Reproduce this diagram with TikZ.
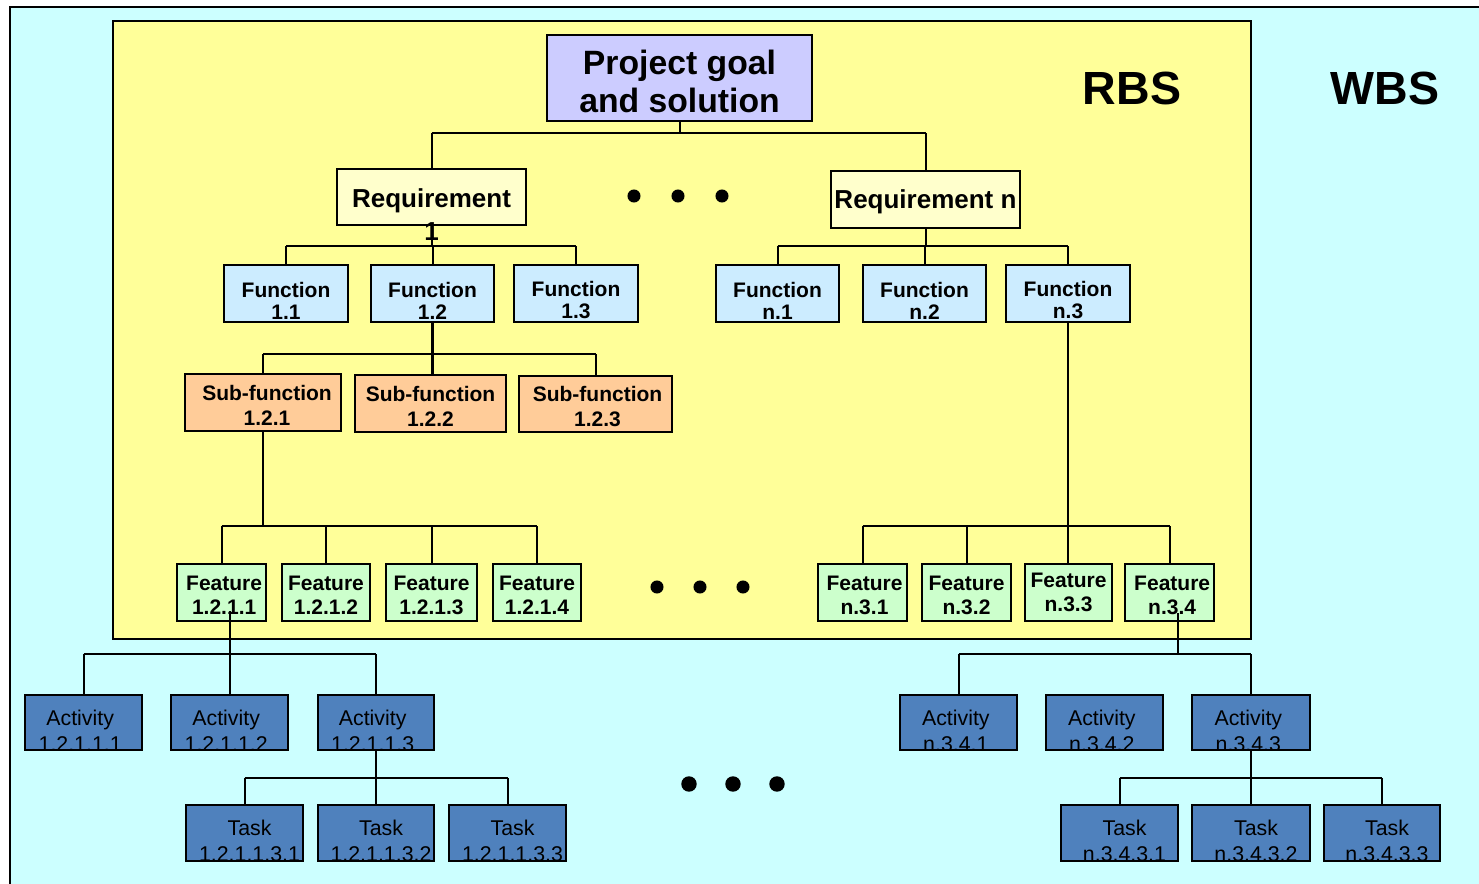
\documentclass[tikz,border=0pt]{standalone}
\usepackage{fontspec}
\setmainfont{Liberation Sans}
\usetikzlibrary{calc}

\definecolor{wbsbg}{HTML}{CCFFFF}
\definecolor{rbsbg}{HTML}{FFFF99}
\definecolor{goalfill}{HTML}{CCCCFF}
\definecolor{reqfill}{HTML}{FFFFCC}
\definecolor{funfill}{HTML}{CCECFF}
\definecolor{subfill}{HTML}{FFCC99}
\definecolor{featfill}{HTML}{CCFFCC}
\definecolor{workfill}{HTML}{4F81BD}

% box: style, name, x1, y1, x2, y2, text options, text
\newcommand\bx[8]{%
  \node[#1, minimum width={(#5-#3)*0.75pt}, minimum height={(#6-#4)*0.75pt}]
    (#2) at ({(#3+#5)/2},{(#4+#6)/2}) {};
  \node[#1 text, #7] at (#2.center) {#8};
}
% work box: the label is cut off by the box outline
\newcommand\wx[8]{%
  \node[#1, minimum width={(#5-#3)*0.75pt}, minimum height={(#6-#4)*0.75pt}]
    (#2) at ({(#3+#5)/2},{(#4+#6)/2}) {};
  \begin{scope}
    \clip (#2.south west) rectangle (#2.north east);
    \node[#1 text, #7] at (#2.center) {#8};
  \end{scope}
  \draw[line width=1.5pt] (#2.south west) rectangle (#2.north east);
}
% tree fork: parent, bar y, first child, last child, children
\newcommand\fork[5]{%
  \draw[link] (#1.south) -- (#1.south |- 0,#2);
  \draw[link] (#3.north |- 0,#2) -- (#4.north |- 0,#2);
  \foreach \c in {#5} { \draw[link] (\c.north) -- (\c.north |- 0,#2); }
}

\begin{document}
\begin{tikzpicture}[x=0.75pt,y=-0.75pt,
  box/.style={draw=black, line width=1.5pt, rectangle, inner sep=0pt, outer sep=0pt},
  lbl/.style={align=center, inner sep=0pt, text=black},
  goalbox/.style={box, fill=goalfill},
  goalbox text/.style={lbl, font=\fontsize{25.3}{28}\selectfont\bfseries},
  reqbox/.style={box, fill=reqfill},
  reqbox text/.style={lbl, font=\fontsize{19.5}{24.75}\selectfont\bfseries},
  funbox/.style={box, fill=funfill},
  funbox text/.style={lbl, font=\fontsize{15.75}{16.5}\selectfont\bfseries},
  subbox/.style={box, fill=subfill},
  subbox text/.style={lbl, font=\fontsize{15.75}{18.75}\selectfont\bfseries},
  featbox/.style={box, fill=featfill},
  featbox text/.style={lbl, font=\fontsize{15.75}{18}\selectfont\bfseries},
  actbox/.style={box, fill=workfill},
  actbox text/.style={lbl, font=\fontsize{16}{19.3}\selectfont},
  taskbox/.style={box, fill=workfill},
  taskbox text/.style={lbl, font=\fontsize{16}{20}\selectfont},
  link/.style={line width=1.5pt},
  title/.style={inner sep=0pt, font=\fontsize{34.9}{40}\selectfont\bfseries},
  dot/.style={fill=black},
]
\useasboundingbox (0,0) rectangle (1479,883);
\clip (0,0) rectangle (1479,883);
\fill[white] (0,0) rectangle (1479,883);

% WBS area and RBS area
\draw[line width=1.5pt, fill=wbsbg] (10,7) rectangle (1500,900);
\draw[line width=1.5pt, fill=rbsbg] (113,21) rectangle (1251,639);

\node[title] (rbs) at (1132,88) {RBS};
\node[title] (wbs) at (1385,88) {WBS};

% goal and requirements
\bx{goalbox}{goal}{547}{35}{812}{121}{yshift=-2.5pt}{Project goal\\and solution}
\bx{reqbox}{req1}{337}{169}{526}{225}{yshift=-13pt}{Requirement\\1}
\bx{reqbox}{reqn}{831}{171}{1020}{228}{yshift=-1.8pt}{Requirement n}

% functions
\bx{funbox}{f11}{224}{265}{348}{322}{yshift=-5.2pt}{Function\\1.1}
\bx{funbox}{f12}{371}{265}{494}{322}{yshift=-5.2pt}{Function\\1.2}
\bx{funbox}{f13}{514}{265}{638}{322}{yshift=-5.2pt}{Function\\1.3}
\bx{funbox}{fn1}{716}{265}{839}{322}{yshift=-5.2pt}{Function\\n.1}
\bx{funbox}{fn2}{863}{265}{986}{322}{yshift=-5.2pt}{Function\\n.2}
\bx{funbox}{fn3}{1006}{265}{1130}{322}{yshift=-5.2pt}{Function\\n.3}

% sub-functions
\bx{subbox}{s121}{185}{374}{341}{431}{yshift=-2.1pt, xshift=3pt}{Sub-function\\1.2.1}
\bx{subbox}{s122}{355}{375}{506}{432}{yshift=-2.1pt}{Sub-function\\1.2.2}
\bx{subbox}{s123}{519}{376}{672}{432}{yshift=-2.1pt, xshift=1.5pt}{Sub-function\\1.2.3}

% features
\bx{featbox}{ft1}{177}{564}{266}{621}{yshift=-2.1pt, xshift=2pt}{Feature\\1.2.1.1}
\bx{featbox}{ft2}{282}{564}{370}{621}{yshift=-2.1pt}{Feature\\1.2.1.2}
\bx{featbox}{ft3}{386}{564}{477}{621}{yshift=-2.1pt}{Feature\\1.2.1.3}
\bx{featbox}{ft4}{493}{564}{581}{621}{yshift=-2.1pt}{Feature\\1.2.1.4}
\bx{featbox}{fn31}{818}{564}{907}{621}{yshift=-2.1pt, xshift=1.5pt}{Feature\\n.3.1}
\bx{featbox}{fn32}{922}{564}{1011}{621}{yshift=-2.1pt}{Feature\\n.3.2}
\bx{featbox}{fn33}{1025}{564}{1112}{621}{yshift=0pt}{Feature\\n.3.3}
\bx{featbox}{fn34}{1125}{564}{1214}{621}{yshift=-2.1pt, xshift=2pt}{Feature\\n.3.4}

% activities
\wx{actbox}{a1}{25}{695}{142}{750}{xshift=-2.5pt, yshift=-6.2pt}{Activity\\1.2.1.1.1}
\wx{actbox}{a2}{171}{695}{288}{750}{xshift=-2.5pt, yshift=-6.2pt}{Activity\\1.2.1.1.2}
\wx{actbox}{a3}{318}{695}{434}{750}{xshift=-2.5pt, yshift=-6.2pt}{Activity\\1.2.1.1.3}
\wx{actbox}{an1}{900}{695}{1017}{750}{xshift=-2pt, yshift=-6.2pt}{Activity\\n.3.4.1}
\wx{actbox}{an2}{1046}{695}{1163}{750}{xshift=-2pt, yshift=-6.2pt}{Activity\\n.3.4.2}
\wx{actbox}{an3}{1192}{695}{1310}{750}{xshift=-2pt, yshift=-6.2pt}{Activity\\n.3.4.3}

% tasks
\wx{taskbox}{t1}{186}{805}{303}{861}{xshift=3.75pt, yshift=-5.85pt}{Task\\1.2.1.1.3.1}
\wx{taskbox}{t2}{318}{805}{434}{861}{xshift=3.75pt, yshift=-5.85pt}{Task\\1.2.1.1.3.2}
\wx{taskbox}{t3}{449}{805}{566}{861}{xshift=3.75pt, yshift=-5.85pt}{Task\\1.2.1.1.3.3}
\wx{taskbox}{tn1}{1061}{805}{1178}{861}{xshift=3.75pt, yshift=-5.85pt}{Task\\n.3.4.3.1}
\wx{taskbox}{tn2}{1192}{805}{1310}{861}{xshift=3.75pt, yshift=-5.85pt}{Task\\n.3.4.3.2}
\wx{taskbox}{tn3}{1324}{805}{1440}{861}{xshift=3.75pt, yshift=-5.85pt}{Task\\n.3.4.3.3}

% ellipsis dots
\foreach \x in {634,678,722} \fill[dot] (\x,196) circle[radius=4.9pt];
\foreach \x in {657,700,743} \fill[dot] (\x,587) circle[radius=4.9pt];
\foreach \x in {689,733,777} \fill[dot] (\x,784) circle[radius=5.8pt];

% connectors
\fork{goal}{133}{req1}{reqn}{req1,reqn}
\fork{req1}{246}{f11}{f13}{f11,f12,f13}
\fork{reqn}{246}{fn1}{fn3}{fn1,fn2,fn3}

\draw[line width=2.5pt] (f12.south) -- (f12.south |- s122.north);
\draw[link] (s121.north |- 0,354) -- (s123.north |- 0,354);
\draw[link] (s121.north) -- (s121.north |- 0,354);
\draw[link] (s123.north) -- (s123.north |- 0,354);

\fork{s121}{526}{ft1}{ft4}{ft1,ft2,ft3,ft4}
\draw[link] (fn3.south) -- (fn3.south |- fn33.north);
\draw[link] (fn31.north |- 0,526) -- (fn34.north |- 0,526);
\foreach \c in {fn31,fn32,fn34} \draw[link] (\c.north) -- (\c.north |- 0,526);

% from the RBS features down into the WBS
\draw[link] ($(a2.north |- ft1.south)+(0,-10)$) -- (a2.north);
\draw[link] (a1.north |- 0,654) -- (a3.north |- 0,654);
\draw[link] (a1.north) -- (a1.north |- 0,654);
\draw[link] (a3.north) -- (a3.north |- 0,654);

\coordinate (drop) at ($(fn34.south)+(8.7,-8)$);
\draw[link] (drop) -- (drop |- 0,654);
\draw[link] (an1.north |- 0,654) -- (an3.north |- 0,654);
\draw[link] (an1.north) -- (an1.north |- 0,654);
\draw[link] (an3.north) -- (an3.north |- 0,654);

\fork{a3}{778}{t1}{t3}{t1,t2,t3}
\fork{an3}{778}{tn1}{tn3}{tn1,tn2,tn3}
\end{tikzpicture}
\end{document}
